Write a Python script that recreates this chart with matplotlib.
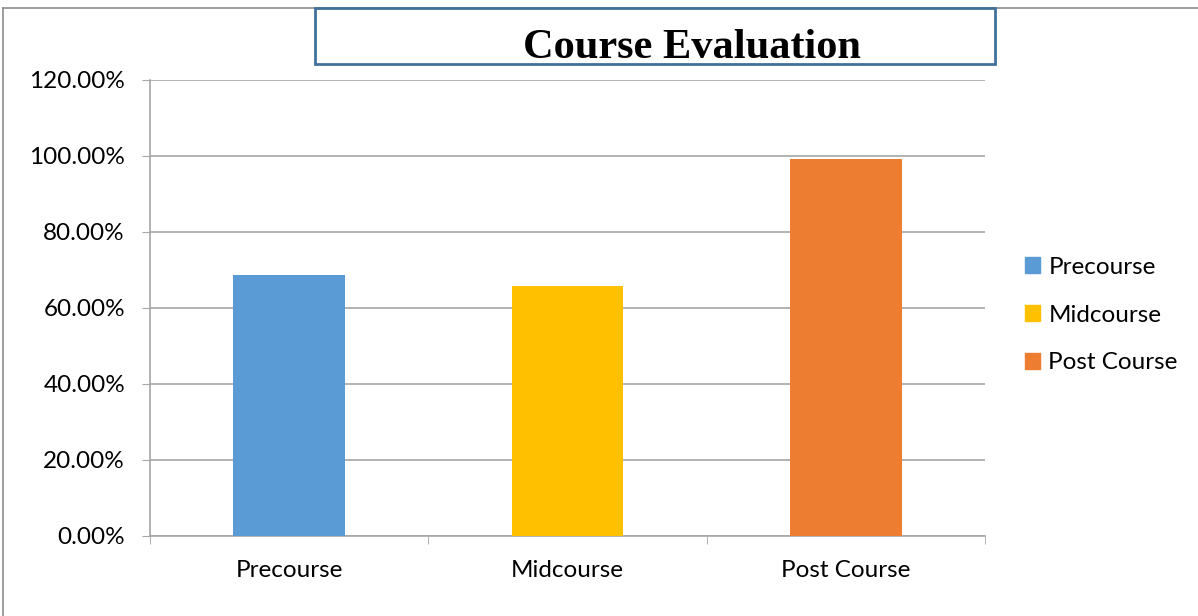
import matplotlib.pyplot as plt
import numpy as np
from matplotlib.patches import Rectangle
from matplotlib.ticker import PercentFormatter
from matplotlib.lines import Line2D

categories = ["Precourse", "Midcourse", "Post Course"]
values = [68.7, 65.8, 99.2]
colors = ["#5B9BD5", "#FFC000", "#ED7D31"]
yticks = [0, 20, 40, 60, 80, 100, 120]

plt.rcParams['font.family'] = ['Lato', 'DejaVu Sans']

fig = plt.figure(figsize=(11.98, 6.16), dpi=100)
ax = fig.add_axes([150 / 1198, 1 - 536 / 616, 835 / 1198, 456 / 616])

x = np.arange(len(categories))
ax.bar(x, values, width=0.40, color=colors, zorder=3)

ax.set_xlim(-0.5, len(categories) - 0.5)
ax.set_ylim(0, 120)
ax.set_yticks(yticks)
ax.yaxis.set_major_formatter(PercentFormatter(decimals=2))
ax.set_xticks(x)
ax.set_xticklabels(categories)
ax.set_xticks(np.arange(len(categories) + 1) - 0.5, minor=True)
ax.tick_params(axis='x', which='major', length=0, pad=17, labelsize=17.5)
ax.tick_params(axis='x', which='minor', length=6, color='#A6A6A6', direction='out')
ax.tick_params(axis='y', length=6, color='#A6A6A6', pad=12, labelsize=17.5)

ax.grid(axis='y', color='#A6A6A6', linewidth=1.2, zorder=0)
for s in ['top', 'right']:
    ax.spines[s].set_visible(False)
for s in ['left', 'bottom']:
    ax.spines[s].set_color('#A6A6A6')
    ax.spines[s].set_linewidth(1.2)

handles = [Rectangle((0, 0), 1, 1, color=c) for c in colors]
fig.legend(handles, categories, loc='center left', bbox_to_anchor=(1003 / 1198, 1 - 315 / 616),
           frameon=False, fontsize=17.5, handlelength=0.62, handleheight=0.62,
           handletextpad=0.35, labelspacing=1.1)

# outer chart border (only top/left visible in the reference)
fig.add_artist(Line2D([3 / 1198, 3 / 1198], [0, 1 - 8 / 616], transform=fig.transFigure,
                      color='#8C8C8C', linewidth=1.2))
fig.add_artist(Line2D([3 / 1198, 1], [1 - 8 / 616, 1 - 8 / 616], transform=fig.transFigure,
                      color='#8C8C8C', linewidth=1.2))

# title box
box = Rectangle((315 / 1198, 1 - 64 / 616), 680 / 1198, 56 / 616, transform=fig.transFigure,
                facecolor='white', edgecolor='#41719C', linewidth=2, zorder=5)
fig.add_artist(box)
fig.text(692 / 1198, 1 - 48 / 616, "Course Evaluation", ha='center', va='center',
         family='Liberation Serif', fontweight='bold', fontsize=30.5, zorder=6)

fig.savefig("out.png", dpi=100)
